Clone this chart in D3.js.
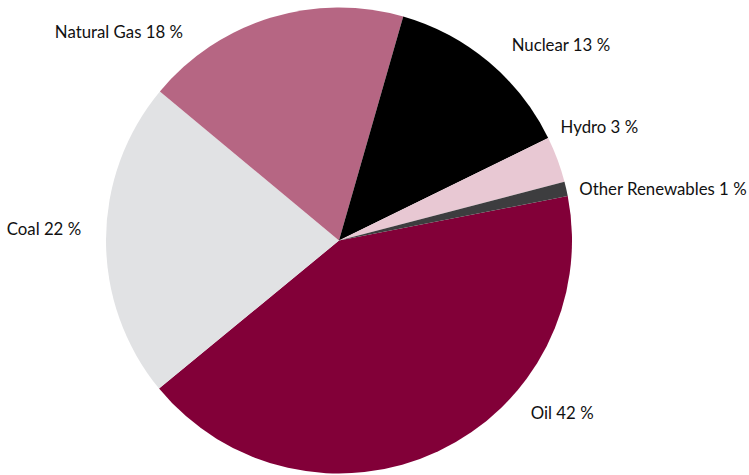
<!DOCTYPE html>
<html>
<head>
<meta charset="utf-8">
<script src="https://cdn.jsdelivr.net/npm/d3@7/dist/d3.min.js"></script>
<style>
  html, body { margin: 0; padding: 0; background: #ffffff; }
  svg { display: block; }
  text { font-family: "Lato", "Open Sans", sans-serif; font-size: 16.8px; fill: #111111; }
</style>
</head>
<body>
<svg id="chart" width="749" height="475"></svg>
<script>
// Share of primary energy consumption by source (percent)
const sources = ["Oil", "Coal", "Natural Gas", "Nuclear", "Hydro", "Other Renewables"];
const shares  = [42.1, 22.0, 18.4, 13.3, 3.2, 1.0];
const colors  = ["#820038", "#e1e2e4", "#b66683", "#000000", "#e8c8d3", "#3d3d3f"];

const W = 749, H = 475;
const cx = 339, cy = 240.5, R = 233;

// Label placement: angle (deg, clockwise from 12 o'clock), radius, text anchor
const labelLayout = {
  "Oil":              { a: 132.7, r: 261, anchor: "start" },
  "Coal":             { a: 271.6, r: 258, anchor: "end" },
  "Natural Gas":      { a: 322.6, r: 257, anchor: "end" },
  "Nuclear":          { a: 42.0,  r: 258, anchor: "start" },
  "Hydro":            { a: 63.8,  r: 247, anchor: "start" },
  "Other Renewables": { a: 78.7,  r: 245, anchor: "start" }
};

const data = sources.map((s, i) => ({ name: s, value: shares[i], color: colors[i] }));

const svg = d3.select("#chart");
const g = svg.append("g").attr("transform", `translate(${cx},${cy})`);

const startDeg = 79;
const pie = d3.pie()
  .sort(null)
  .value(d => d.value)
  .startAngle(startDeg * Math.PI / 180)
  .endAngle((startDeg + 360) * Math.PI / 180);

const arc = d3.arc().innerRadius(0).outerRadius(R);

g.selectAll("path.slice")
  .data(pie(data))
  .join("path")
  .attr("class", "slice")
  .attr("d", arc)
  .attr("fill", d => d.data.color);

const fmt = d3.format(".0f");
g.selectAll("text.label")
  .data(data)
  .join("text")
  .attr("class", "label")
  .each(function (d) {
    const L = labelLayout[d.name];
    const t = L.a * Math.PI / 180;
    d3.select(this)
      .attr("x", L.r * Math.sin(t))
      .attr("y", -L.r * Math.cos(t) + 2)
      .attr("text-anchor", L.anchor);
  })
  .text(d => `${d.name} ${fmt(d.value)} %`);
</script>
</body>
</html>
